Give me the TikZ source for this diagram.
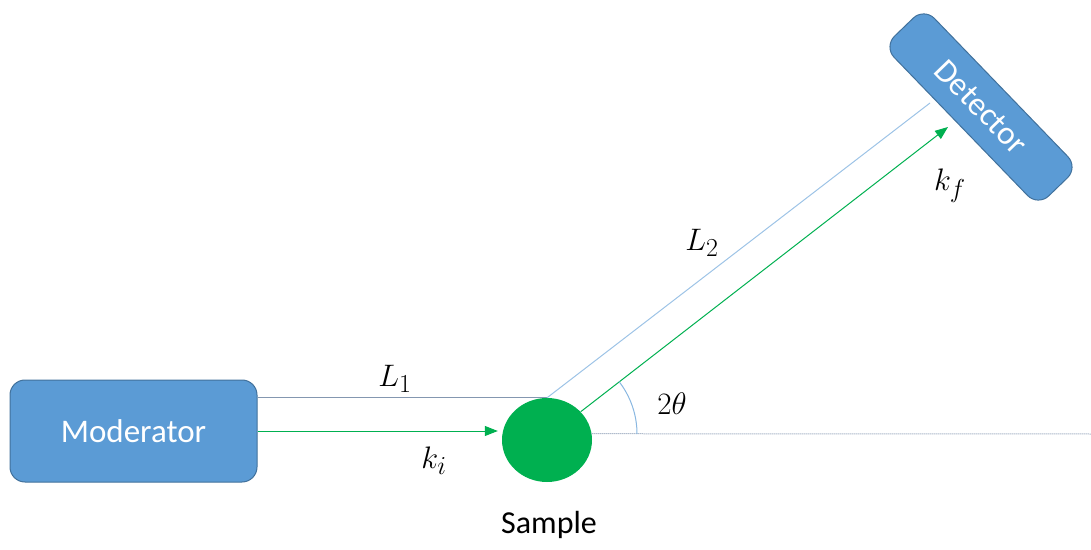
\documentclass[tikz,border=0pt]{standalone}
\usepackage{fontspec}
\setmainfont{Carlito}
\usepackage{graphicx}
\usepackage{tikz}
\usetikzlibrary{arrows.meta, shapes.geometric, positioning, calc}
\definecolor{BoxBlue}{RGB}{91,155,213}
\definecolor{BoxEdge}{RGB}{65,113,156}
\definecolor{SampleGreen}{RGB}{0,176,80}
\definecolor{PathGray}{RGB}{132,151,176}
\definecolor{PathBlue}{RGB}{157,195,230}
\newcommand{\symb}[1]{\scalebox{1.25}{$#1$}}

\begin{document}
\begin{tikzpicture}[x=1pt, y=1pt,
	box/.style={rectangle, rounded corners=15pt, draw=BoxEdge, line width=1pt, fill=BoxBlue, text=white, font=\fontsize{33}{40}\selectfont, inner sep=0pt},
	flt/.style={line width=1pt, PathGray},
	beam/.style={line width=1pt, SampleGreen, -{Triangle[length=13pt, width=10pt]}},
	lbl/.style={font=\fontsize{24.88}{30}\selectfont}]
	\useasboundingbox (0,0) rectangle (1091,549);
	\node[box, minimum width=247pt, minimum height=102pt] (mod) at (133.5,118) {Moderator};
	\node[ellipse, fill=SampleGreen, minimum width=90pt, minimum height=84pt, inner sep=0pt] (smp) at (547,109) {};
	\node[font=\fontsize{32}{38}\selectfont] (smplbl) at (549,24) {Sample};
	\node[box, minimum width=222pt, minimum height=56pt, rotate=-46] (det) at (981,442) {Detector};
	\coordinate (hit) at (930,446);
	\coordinate (aim) at (948,422);
	\coordinate (base) at (1091,115);
	\coordinate (vtx) at (551.5,115);
	% flight paths
	\draw[flt] (mod.east |- smp.north) -- (smp.north);
	\draw[flt, PathBlue] (smp.north) -- (hit);
	\draw[beam] (mod.east) -- ($(mod.east -| smp.west)+(-4,0)$);
	\draw[beam] (smp.40) -- (aim);
	\draw[flt, dash pattern=on 1pt off 1pt] (smp.8) -- (base);
	\draw[flt, PathBlue!70!BoxBlue] (vtx) ++(0:85.5) arc[start angle=0, end angle=37.7, radius=85.5pt];
	% labels
	\node[lbl] (l1) at (395,170) {\symb{L_1}};
	\node[lbl] (ki) at (434,88) {\symb{k_i}};
	\node[lbl] (l2) at (702,306) {\symb{L_2}};
	\node[lbl] (kf) at (950,363) {\symb{k_f}};
	\node[lbl] (ang) at (672,145) {\symb{2\theta}};
\end{tikzpicture}
\end{document}
